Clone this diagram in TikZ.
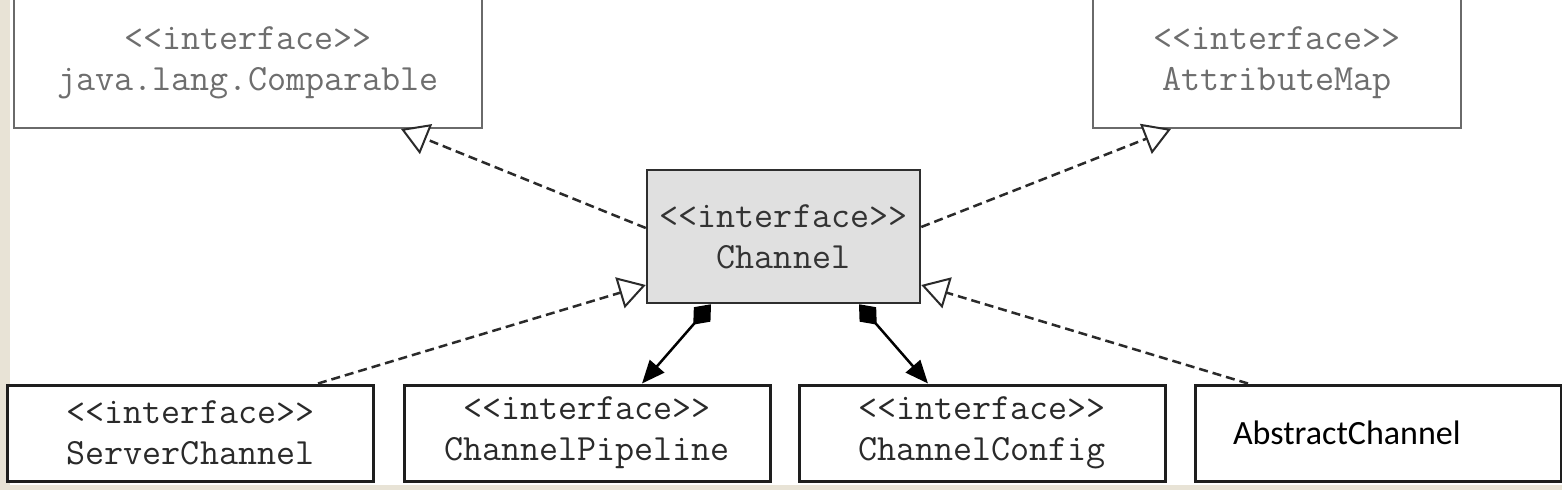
\documentclass[tikz,border=0pt]{standalone}
\usepackage{fontspec}
\newfontfamily\absfont{Carlito}
\usetikzlibrary{arrows.meta}
\definecolor{bgbeige}{HTML}{E8E3D6}
\definecolor{topline}{HTML}{6A6A6A}
\definecolor{toptext}{HTML}{6E6E6E}
\definecolor{chanfill}{HTML}{E0E0E0}
\definecolor{chanline}{HTML}{2E2E2E}
\definecolor{chantext}{HTML}{333333}
\definecolor{botline}{HTML}{1E1E1E}
\definecolor{bottext}{HTML}{2A2A2A}
\definecolor{linec}{HTML}{2A2A2A}
\begin{document}
\begin{tikzpicture}[x=1pt,y=-1pt,
  umltext/.style={font=\ttfamily\fontsize{37}{41}\selectfont, align=center, inner sep=0pt},
  topbox/.style={umltext, draw=topline, line width=2pt, fill=white, text=toptext, minimum height=131pt},
  chanbox/.style={umltext, draw=chanline, line width=2.5pt, fill=chanfill, text=chantext, minimum width=273pt, minimum height=133pt},
  botbox/.style={umltext, draw=botline, line width=3pt, fill=white, text=bottext, minimum width=366pt, minimum height=96pt},
  realize/.style={draw=linec, line width=2.5pt, dash pattern=on 9pt off 5pt,
     -{Triangle[fill=white, length=27pt, width=32pt, line width=2pt]}},
  compose/.style={draw=black, line width=2.5pt,
     {Diamond[length=27pt, width=22pt]}-{Triangle[length=23pt, width=19pt]}}
]
\useasboundingbox (0,0) rectangle (1562,490);
\clip (0,0) rectangle (1562,490);
\fill[white] (0,0) rectangle (1562,490);
\fill[bgbeige] (0,0) rectangle (10,490);
\fill[bgbeige] (0,485) rectangle (1562,490);

% top interfaces
\node[topbox, minimum width=468pt] (comp) at (248,62.5) {<<interface>>\\java.lang.Comparable};
\node[topbox, minimum width=368pt] (attr) at (1277,62.5) {<<interface>>\\AttributeMap};

% central interface
\node[chanbox] (chan) at (783.5,236.5) {<<interface>>\\Channel};

% bottom row
\node[botbox] (srv)  at (190.5,433) {<<interface>>\\ServerChannel};
\node[botbox] (pipe) at (587,433)   {<<interface>>\\ChannelPipeline};
\node[botbox] (conf) at (982,433)   {<<interface>>\\ChannelConfig};
\node[draw=botline, line width=3pt, fill=white, minimum height=96pt,
      text width=290pt, inner xsep=38pt, inner ysep=0pt, align=left,
      font=\absfont\fontsize{34}{40}\selectfont, text=black] (abs) at (1378,433) {AbstractChannel};

% realizations
\draw[realize] ([yshift=8.5pt]chan.west) -- ([xshift=388pt]comp.south west);
\draw[realize] ([yshift=9.5pt]chan.east) -- ([xshift=79pt]attr.south west);
\draw[realize] ([xshift=127.5pt]srv.north) -- ([yshift=-48.5pt]chan.west);
\draw[realize] ([xshift=-130pt]abs.north) -- ([yshift=-48.5pt]chan.east);

% compositions
\draw[compose] ([xshift=-72.5pt]chan.south) -- ([xshift=55pt]pipe.north);
\draw[compose] ([xshift=75.5pt]chan.south) -- ([xshift=-54pt]conf.north);
\end{tikzpicture}
\end{document}
